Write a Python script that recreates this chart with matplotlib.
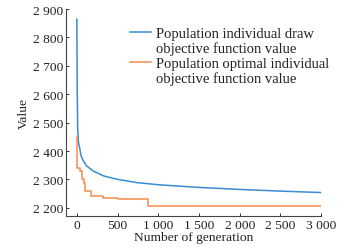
import numpy as np
import matplotlib.pyplot as plt
from matplotlib.ticker import FuncFormatter
from matplotlib.lines import Line2D

plt.rcParams['font.family'] = ['Liberation Serif', 'DejaVu Serif']
plt.rcParams['font.size'] = 9.7

# population individual (blue)
gen_draw = [0, 2, 5, 10, 20, 37, 50, 78, 119, 200, 324, 488, 734, 1020,
            1500, 2000, 2500, 3000]
val_draw = [2864, 2750, 2600, 2480, 2430, 2407, 2385, 2366, 2348, 2330,
            2313, 2301, 2289, 2281, 2272, 2265, 2259, 2254]

# best individual so far (orange, stepwise)
gen_best = [0, 2, 4, 37, 58, 86, 98, 175, 324, 500, 877, 3000]
val_best = [2448, 2371, 2342, 2330, 2301, 2289, 2260, 2242, 2234, 2231,
            2206, 2206]

labels = [['Population individual draw', 'objective function value'],
          ['Population optimal individual', 'objective function value']]

blue = '#3a8dd3'
orange = '#f68b4f'

fig = plt.figure(figsize=(3.56, 2.51), dpi=100)
ax = fig.add_axes([0.185, 0.135, 0.717, 0.825])

l1, = ax.plot(gen_draw, val_draw, color=blue, lw=1.1)
l2, = ax.step(gen_best, val_best, where='post', color=orange, lw=1.1)

ax.set_xlim(-135, 3000)
ax.set_ylim(2171, 2900)
ax.set_xticks([0, 500, 1000, 1500, 2000, 2500, 3000])
ax.set_yticks([2200, 2300, 2400, 2500, 2600, 2700, 2800, 2900])
sp = FuncFormatter(lambda v, p: '{:,}'.format(int(v)).replace(',', ' '))
ax.xaxis.set_major_formatter(sp)
ax.yaxis.set_major_formatter(sp)
ax.tick_params(direction='in', length=2.5, width=0.7, pad=2, colors='#333333')
ax.tick_params(labelcolor='#222222')
for s in ['top', 'right']:
    ax.spines[s].set_visible(False)
for s in ['left', 'bottom']:
    ax.spines[s].set_linewidth(0.8)
    ax.spines[s].set_color('#444444')

ax.set_xlabel('Number of generation', labelpad=0, color='#222222')
ax.set_ylabel('Value', labelpad=2, color='#222222')

# legend: handle sits on the first line of each two-line label
blank = Line2D([], [], color='none')
handles = [l1, blank, l2, blank]
texts = [labels[0][0], labels[0][1], labels[1][0], labels[1][1]]
leg = ax.legend(handles, texts, loc='upper left', bbox_to_anchor=(0.365, 0.89),
                bbox_transform=fig.transFigure, frameon=False, fontsize=10.5,
                handlelength=1.45, handletextpad=0.35, labelspacing=0.1,
                borderaxespad=0, borderpad=0)
for t in leg.get_texts():
    t.set_color('#222222')

fig.savefig('out.png', dpi=100)
